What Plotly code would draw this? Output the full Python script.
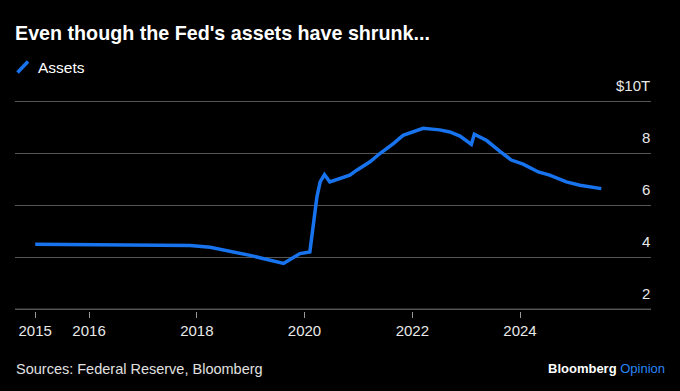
import plotly.graph_objects as go

# Fed balance sheet total assets, trillions USD
dates = ["2015-01-01", "2015-10-12", "2016-06-10", "2017-03-10", "2017-11-17", "2018-04-01",
         "2018-12-28", "2019-08-12", "2019-09-24", "2019-12-01", "2020-02-06", "2020-03-01",
         "2020-03-25", "2020-04-16", "2020-05-15", "2020-06-20", "2020-08-30", "2020-11-03",
         "2020-12-20", "2021-03-20", "2021-05-26", "2021-08-25", "2021-10-30", "2022-03-15",
         "2022-07-05", "2022-09-12", "2022-11-20", "2023-02-05", "2023-02-25", "2023-05-20",
         "2023-08-20", "2023-11-03", "2024-01-22", "2024-05-04", "2024-07-20", "2024-10-08",
         "2024-11-10", "2025-02-10", "2025-05-12", "2025-07-05"]
assets = [4.51, 4.50, 4.48, 4.50, 4.46, 4.39,
          4.08, 3.77, 3.93, 4.15, 4.21, 5.18,
          6.33, 6.91, 7.19, 6.91, 7.04, 7.17,
          7.36, 7.68, 8.00, 8.38, 8.70, 8.97,
          8.91, 8.83, 8.67, 8.35, 8.74, 8.50,
          8.07, 7.75, 7.59, 7.29, 7.17, 7.00,
          6.91, 6.78, 6.69, 6.65]

x_tick_vals = ["2015-01-01", "2016-01-01", "2018-01-01", "2020-01-01", "2022-01-01", "2024-01-01"]
x_tick_text = ["2015", "2016", "2018", "2020", "2022", "2024"]
y_tick_vals = [2, 4, 6, 8, 10]
y_tick_text = ["2", "4", "6", "8", "$10T"]

BLUE = "#1873EE"
FONT = "Liberation Sans"

fig = go.Figure()
fig.add_trace(go.Scatter(x=dates, y=assets, mode="lines", name="Assets",
                         line=dict(color=BLUE, width=3.5), showlegend=False))

W, H = 680, 391
L, R, T, B = 15, 29, 100, 80
pw, ph = W - L - R, H - T - B

def px(x):
    return (x - L) / pw

def py(y):
    return (H - B - y) / ph

annotations = [
    dict(text=t, xref="paper", yref="y", x=1, y=v, xanchor="right", yanchor="middle",
         yshift=16, xshift=1, showarrow=False, font=dict(size=15, color="#E8E8E8"))
    for v, t in zip(y_tick_vals, y_tick_text)
]
annotations += [
    dict(text="Assets", xref="paper", yref="paper", x=px(36), y=py(67.5),
         xanchor="left", yanchor="middle", showarrow=False,
         font=dict(size=15.5, color="#FFFFFF")),
    dict(text="Sources: Federal Reserve, Bloomberg", xref="paper", yref="paper",
         x=px(14), y=py(369), xanchor="left", yanchor="middle", showarrow=False,
         font=dict(size=14.5, color="#E0E0E0")),
    dict(text="<b>Bloomberg</b> <span style='color:#2A86F5'>Opinion</span>",
         xref="paper", yref="paper", x=px(667), y=py(368),
         xanchor="right", yanchor="middle", showarrow=False,
         font=dict(size=13, color="#FFFFFF")),
]

fig.update_layout(
    width=W, height=H,
    paper_bgcolor="#000000", plot_bgcolor="#000000",
    margin=dict(l=L, r=R, t=T, b=B),
    font=dict(family=FONT, color="#FFFFFF", size=15),
    title=dict(text="<b>Even though the Fed's assets have shrunk...</b>",
               x=15 / W, xanchor="left", y=1 - 33 / H, yanchor="middle",
               font=dict(family=FONT, size=19.7, color="#FFFFFF")),
    xaxis=dict(type="date", range=["2014-08-17", "2026-06-07"],
               tickvals=x_tick_vals, ticktext=x_tick_text,
               showgrid=False, zeroline=False, showline=False,
               ticks="outside", ticklen=6, tickcolor="#9A9A9A", tickwidth=1.3,
               tickfont=dict(size=15, color="#E8E8E8")),
    yaxis=dict(range=[1.94, 10.06], side="right",
               tickvals=y_tick_vals, showticklabels=False,
               showgrid=True, gridcolor="#555555", gridwidth=1.3,
               zeroline=False, showline=False, ticks=""),
    shapes=[
        dict(type="line", xref="paper", yref="paper",
             x0=px(17.5), y0=py(72.5), x1=px(28), y1=py(61.5),
             line=dict(color=BLUE, width=3.5)),
        dict(type="line", xref="paper", yref="y", x0=0, x1=1, y0=2, y1=2,
             line=dict(color="#9A9A9A", width=1.3), layer="below"),
    ],
    annotations=annotations,
)

fig.write_html("out.html", config={"displayModeBar": False},
               post_script="document.body.style.margin='0';document.body.style.overflow='hidden';")
